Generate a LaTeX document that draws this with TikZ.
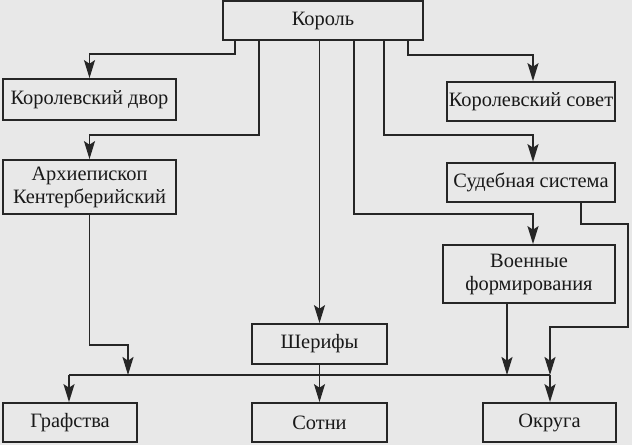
\documentclass[tikz,border=0pt]{standalone}
\usepackage{fontspec}
\setmainfont{Liberation Serif}
\usetikzlibrary{positioning,arrows.meta,calc}

\tikzset{
  blok/.style={draw=black!85, line width=0.9pt, text=black!90,
    font=\fontsize{10.2}{11.5}\selectfont, align=center, inner sep=0pt},
  arr/.style={draw=black!85, line width=0.9pt,
    -{Stealth[length=9pt,width=5.5pt,inset=1.8pt]}},
  lin/.style={draw=black!85, line width=0.9pt},
}

\begin{document}
\begin{tikzpicture}[x=0.5pt,y=-0.5pt]
  \fill[black!9] (0,0) rectangle (632,445);
  \useasboundingbox (0,0) rectangle (632,445);

  %boxes
  \node[blok, minimum width=100pt, minimum height=19.5pt] (korol) at (323,20.5) {Король};
  \node[blok, minimum width=86.5pt, minimum height=20.5pt] (dvor) at (89.5,99.5) {Королевский двор};
  \node[blok, minimum width=86.5pt, minimum height=27pt] (arkh) at (89.5,187) {Архиепископ\\Кентерберийский};
  \node[blok, minimum width=84pt, minimum height=19.5pt] (sovet) at (531,101.5) {Королевский совет};
  \node[blok, minimum width=84pt, minimum height=19.5pt] (sud) at (531,182.5) {Судебная система};
  \node[blok, minimum width=86pt, minimum height=29pt] (voen) at (529,274) {Военные\\формирования};
  \node[blok, minimum width=67.5pt, minimum height=20pt] (sherify) at (319.5,344) {Шерифы};
  \node[blok, minimum width=67pt, minimum height=19.5pt] (grafstva) at (70,422.5) {Графства};
  \node[blok, minimum width=67.5pt, minimum height=19.5pt] (sotni) at (319.5,422.5) {Сотни};
  \node[blok, minimum width=66.5pt, minimum height=19.5pt] (okruga) at (549.5,422.5) {Округа};

  %from the king
  \draw[arr] (korol.south -| 235,0) -- ++(0,13) -| (dvor.north);
  \draw[arr] (korol.south -| 259,0) -- ++(0,94) -| (arkh.north);
  \draw[arr] (korol.south -| sherify.north) -- (sherify.north);
  \draw[arr] (korol.south -| 354,0) -- ++(0,173) -| ([xshift=2pt]voen.north);
  \draw[arr] (korol.south -| 384,0) -- ++(0,94) -| ([xshift=1pt]sud.north);
  \draw[arr] (korol.south -| 408,0) -- ++(0,14) -| ([xshift=1pt]sovet.north);

  %bus line
  \coordinate (busW) at (69,375);
  \coordinate (busE) at (550,375);
  \draw[lin] (busW) -- (busE);
  \draw[arr] (arkh.south) -- ++(0,130) -| (busW -| 128,0);
  \draw[arr] (voen.south -| 507,0) -- (busE -| 507,0);
  \draw[arr] (sud.south -| 581,0) -- ++(0,21) -| (628,327) -| (busE);

  %to the bottom row
  \draw[arr] (busW) -- (busW |- grafstva.north);
  \draw[arr] (sherify.south) -- (sotni.north);
  \draw[arr] (busE) -- (busE |- okruga.north);
\end{tikzpicture}
\end{document}
